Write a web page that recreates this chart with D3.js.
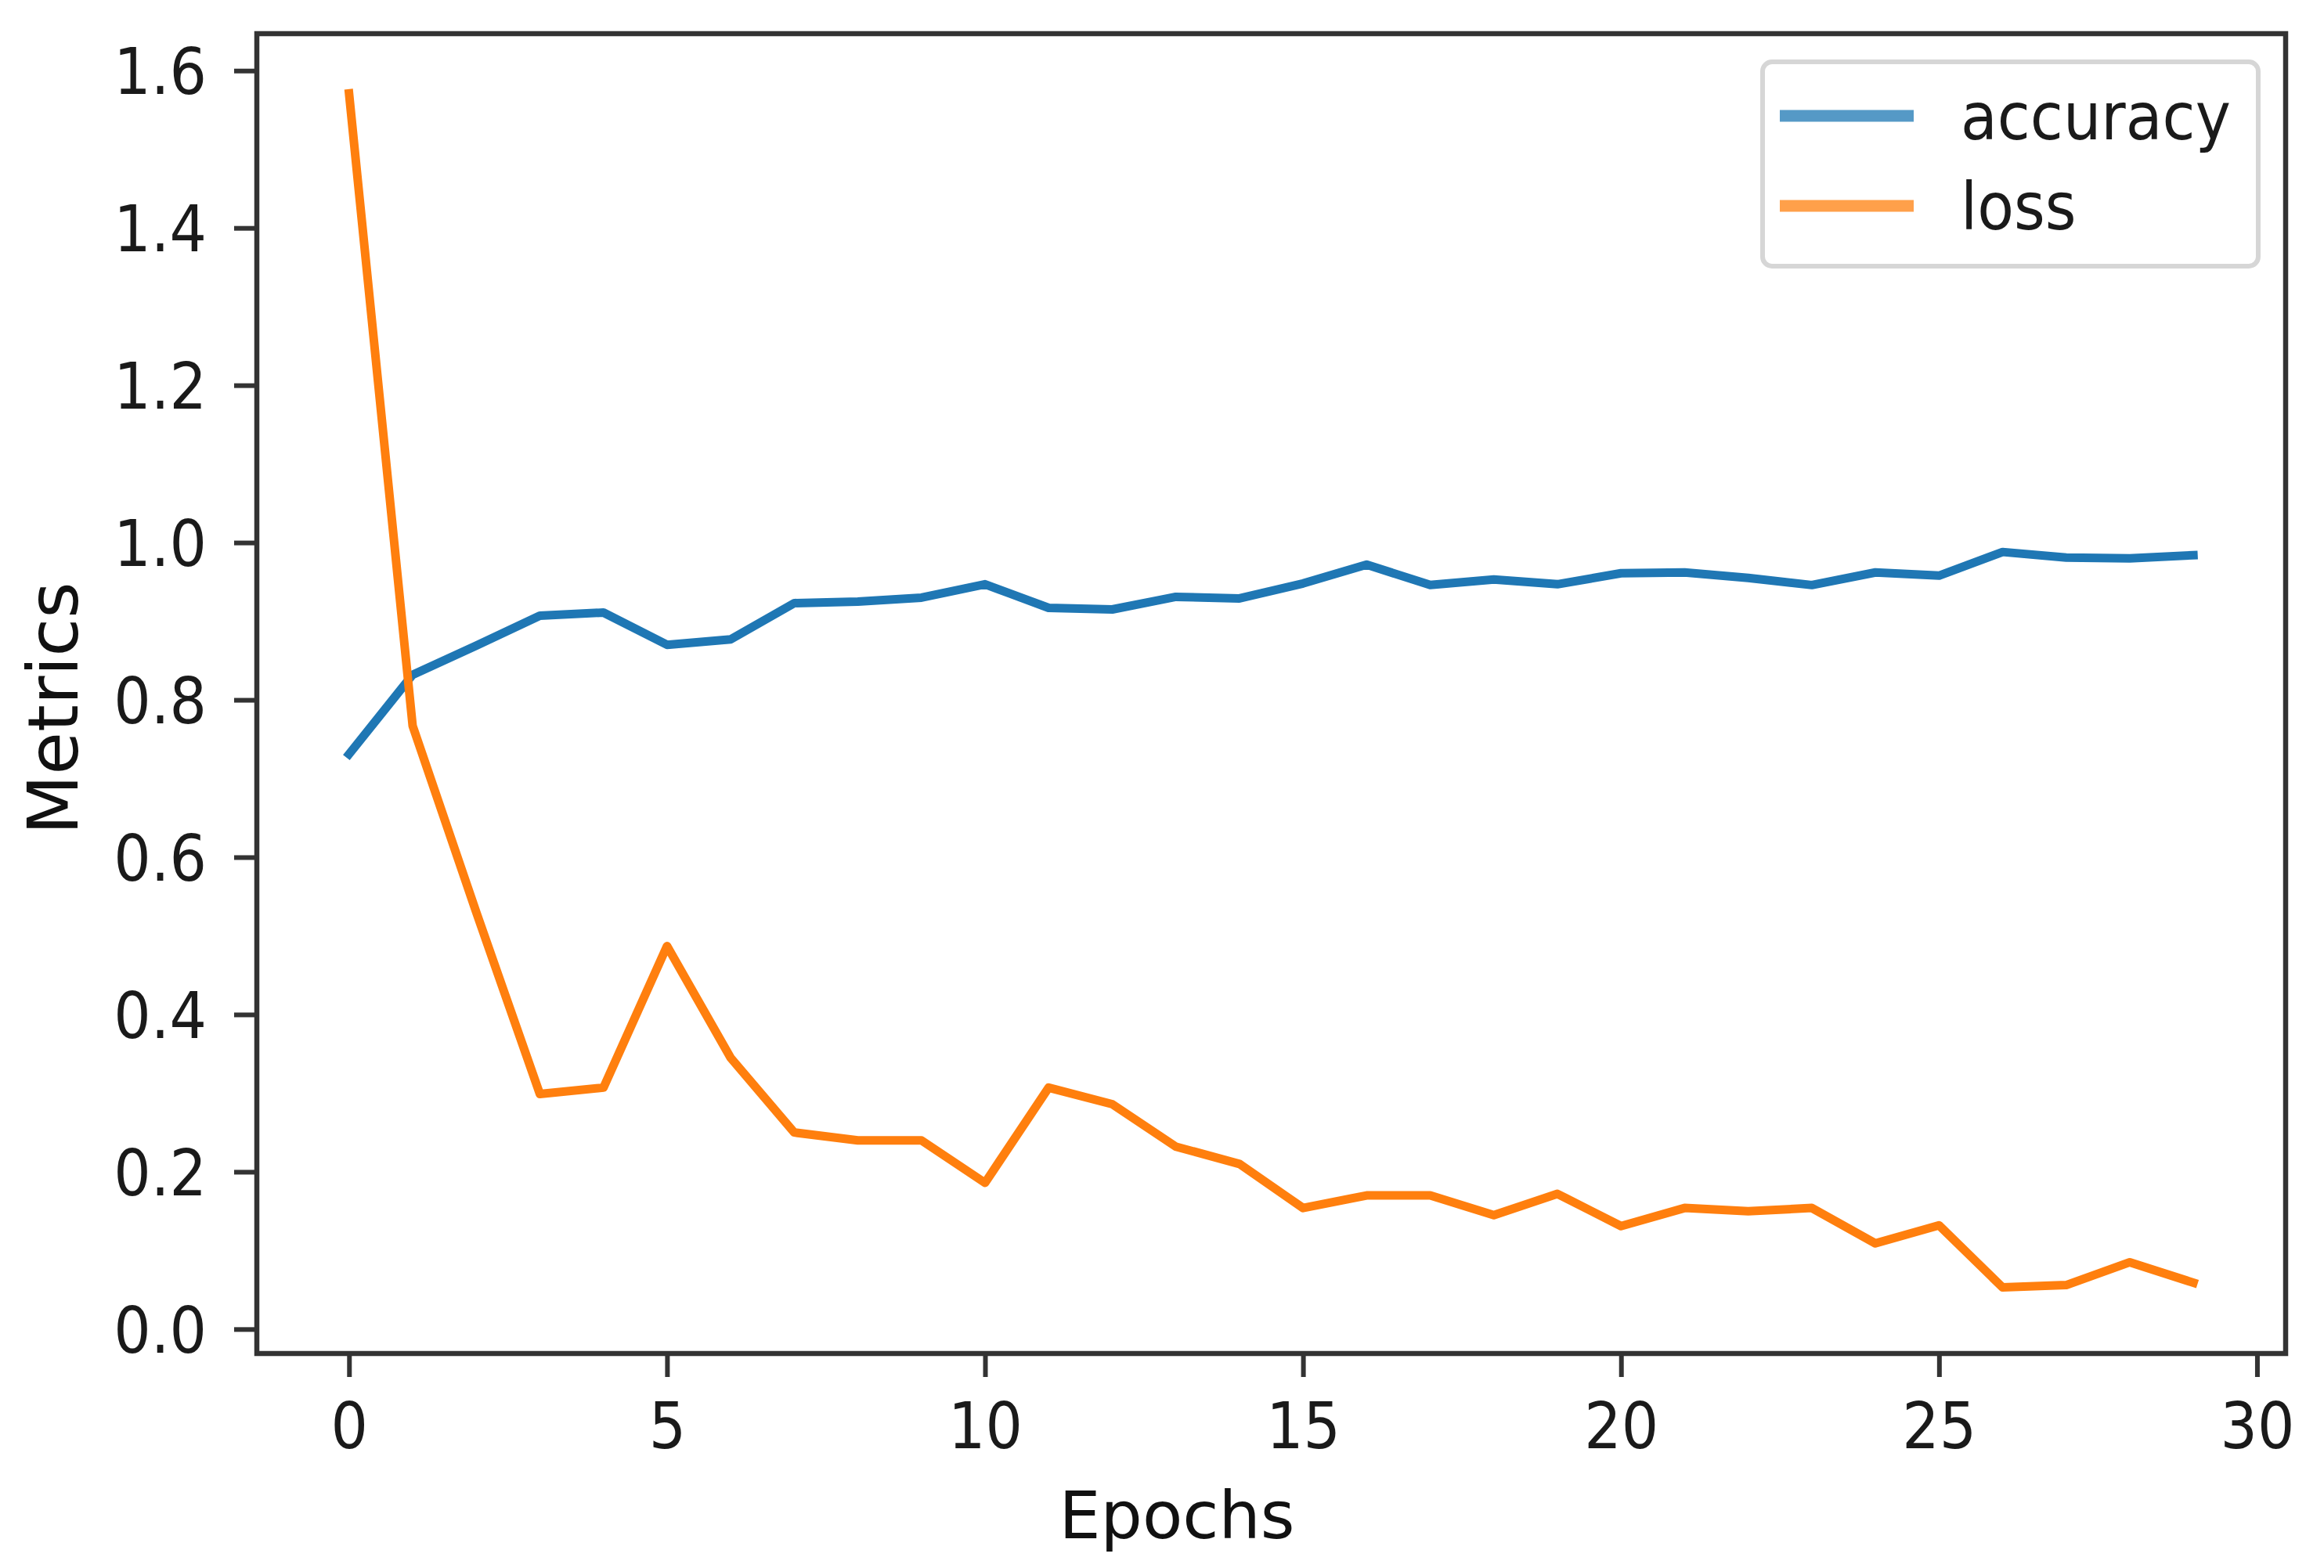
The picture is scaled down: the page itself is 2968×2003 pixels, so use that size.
<!DOCTYPE html>
<html>
<head>
<meta charset="utf-8">
<script src="https://cdn.jsdelivr.net/npm/d3@7"></script>
<style>
  html, body { margin: 0; padding: 0; background: #fff; }
  svg { display: block; }
  text { font-family: "DejaVu Sans", sans-serif; }
</style>
</head>
<body>
<svg id="chart" width="2968" height="2003"></svg>
<script>
// ---- data ----
const epochs = [0,1,2,3,4,5,6,7,8,9,10,11,12,13,14,15,16,17,18,19,20,21,22,23,24,25,26,27,28,29];
const accuracy = [0.731, 0.832, 0.869, 0.907, 0.911, 0.870, 0.877, 0.923, 0.925, 0.930,
                  0.947, 0.917, 0.915, 0.931, 0.929, 0.948, 0.972, 0.946, 0.953, 0.947,
                  0.961, 0.962, 0.955, 0.946, 0.962, 0.958, 0.988, 0.981, 0.980, 0.984];
const loss = [1.571, 0.767, 0.530, 0.299, 0.307, 0.487, 0.345, 0.250, 0.240, 0.240,
              0.186, 0.307, 0.286, 0.232, 0.210, 0.154, 0.170, 0.170, 0.145, 0.172,
              0.131, 0.154, 0.150, 0.154, 0.109, 0.132, 0.053, 0.056, 0.085, 0.059];
const xTicks = [0, 5, 10, 15, 20, 25, 30];
const yTicks = [0.0, 0.2, 0.4, 0.6, 0.8, 1.0, 1.2, 1.4, 1.6];
const seriesNames = ["accuracy", "loss"];
const xLabel = "Epochs";
const yLabel = "Metrics";

// ---- layout ----
const L = 328, R = 2919, T = 43, B = 1729;
const colors = {accuracy: "#1f77b4", loss: "#ff7f0e"};
const legendColors = {accuracy: "#5599c6", loss: "#ffa04a"};
const svg = d3.select("#chart");
svg.append("rect").attr("width", 2968).attr("height", 2003).attr("fill", "#fff");

const x = d3.scaleLinear().domain([-1.45, 30.45]).range([L, R]);
const y = d3.scaleLinear().domain([-0.031, 1.647]).range([B, T]);

const tickFont = 82;
const axisColor = "#333";
const squeeze = 0.91;
function narrow(sel) {
  sel.each(function () {
    const w = this.getComputedTextLength();
    d3.select(this).attr("textLength", w * squeeze).attr("lengthAdjust", "spacingAndGlyphs");
  });
}

// x axis
const gx = svg.append("g").attr("transform", `translate(0,${B})`)
  .call(d3.axisBottom(x).tickValues(xTicks).tickFormat(d3.format("d")).tickSize(30).tickPadding(33));
gx.select(".domain").remove();
gx.selectAll(".tick line").attr("stroke", axisColor).attr("stroke-width", 6);
gx.selectAll(".tick text").attr("font-size", tickFont).attr("fill", "#1a1a1a")
  .attr("font-family", "DejaVu Sans, sans-serif").call(narrow);

// y axis
const gy = svg.append("g").attr("transform", `translate(${L},0)`)
  .call(d3.axisLeft(y).tickValues(yTicks).tickFormat(d3.format(".1f")).tickSize(29).tickPadding(35));
gy.select(".domain").remove();
gy.selectAll(".tick line").attr("stroke", axisColor).attr("stroke-width", 6);
gy.selectAll(".tick text").attr("font-size", tickFont).attr("fill", "#1a1a1a")
  .attr("font-family", "DejaVu Sans, sans-serif").attr("dy", "0.36em").call(narrow);

// lines
const series = {accuracy, loss};
const lineGen = d3.line().x((d, i) => x(epochs[i])).y(d => y(d));
const plot = svg.append("g");
seriesNames.forEach(name => {
  plot.append("path")
    .datum(series[name])
    .attr("d", lineGen)
    .attr("fill", "none")
    .attr("stroke", colors[name])
    .attr("stroke-width", 11)
    .attr("stroke-linejoin", "round")
    .attr("stroke-linecap", "square");
});

// frame
svg.append("rect").attr("x", L).attr("y", T).attr("width", R - L).attr("height", B - T)
  .attr("fill", "none").attr("stroke", axisColor).attr("stroke-width", 6.5);

// axis labels
svg.append("text").attr("x", 1503).attr("y", 1965).attr("text-anchor", "middle")
  .attr("font-size", 84).attr("fill", "#111").text(xLabel);
svg.append("text").attr("transform", `translate(99,905) rotate(-90)`).attr("text-anchor", "middle")
  .attr("font-size", 89).attr("fill", "#111").text(yLabel);

// legend
const lg = svg.append("g");
lg.append("rect").attr("x", 2251).attr("y", 79).attr("width", 633).attr("height", 261)
  .attr("rx", 12).attr("fill", "#fff").attr("stroke", "#d6d6d6").attr("stroke-width", 6);
const legendRows = [148, 263];
seriesNames.forEach((name, i) => {
  lg.append("line").attr("x1", 2273).attr("x2", 2444)
    .attr("y1", legendRows[i]).attr("y2", legendRows[i])
    .attr("stroke", legendColors[name]).attr("stroke-width", 15);
  lg.append("text").attr("x", 2504).attr("y", legendRows[i] + 30)
    .attr("font-size", 84).attr("fill", "#1a1a1a").text(name).call(narrow);
});
</script>
</body>
</html>
